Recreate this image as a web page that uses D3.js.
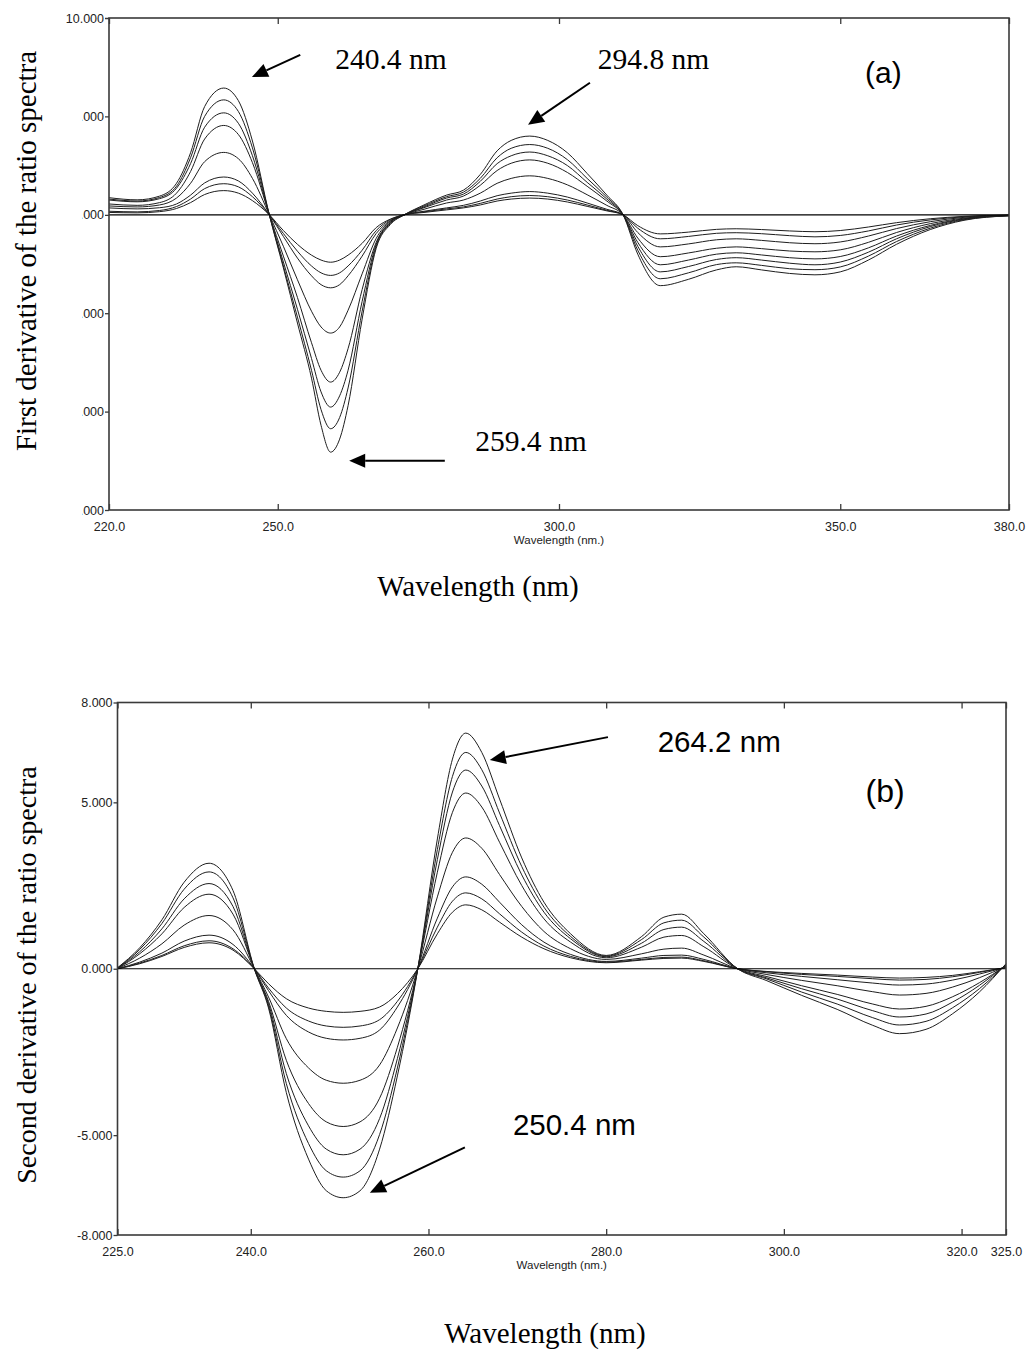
<!DOCTYPE html>
<html>
<head>
<meta charset="utf-8">
<script src="https://cdn.jsdelivr.net/npm/d3@7"></script>
<style>
  body { margin: 0; background: #fff; }
  svg { display: block; }
</style>
</head>
<body>
<svg id="chart"></svg>
<script>
//Panel (a): first derivative of the ratio spectra
const wavelengthsA = [220, 225, 229, 232, 234.5, 237, 240.4, 243, 245.5, 248.5,
  251, 253.5, 256, 257.7, 259.4, 261, 262.5, 265, 267.5, 270, 272.5,
  276, 280, 283, 286, 289, 291.5, 294.8, 298, 301.5, 305, 308.5, 311.4,
  314, 318, 323, 328, 331.5, 336, 341, 345.5, 350, 355, 360, 366, 372, 380]

const firstC1 = [0.12, 0.1, 0.16, 0.32, 0.62, 1.03, 1.23, 1.1, 0.72, 0,
  -0.8, -1.5, -2.05, -2.3, -2.41, -2.3, -2.05, -1.45, -0.65, -0.22, 0,
  0.12, 0.25, 0.35, 0.5, 0.7, 0.8, 0.85, 0.8, 0.65, 0.43, 0.2, 0,
  -0.55, -0.97, -0.88, -0.74, -0.71, -0.75, -0.82, -0.86, -0.8, -0.62, -0.4, -0.2, -0.08, -0.02]
const firstC2 = [0.18, 0.15, 0.22, 0.42, 0.8, 1.33, 1.58, 1.42, 0.92, 0,
  -0.95, -1.85, -2.6, -2.95, -3.08, -2.95, -2.6, -1.8, -0.8, -0.25, 0,
  0.15, 0.3, 0.4, 0.58, 0.8, 0.92, 0.98, 0.92, 0.75, 0.5, 0.23, 0,
  -0.68, -1.22, -1.1, -0.94, -0.91, -0.96, -1.06, -1.12, -1.05, -0.82, -0.52, -0.26, -0.1, -0.02]
const firstC3 = [0.35, 0.3, 0.36, 0.55, 1.0, 1.62, 1.92, 1.72, 1.1, 0,
  -1.1, -2.2, -3.1, -3.55, -3.71, -3.55, -3.1, -2.1, -0.95, -0.3, 0,
  0.18, 0.35, 0.48, 0.7, 0.97, 1.1, 1.18, 1.1, 0.9, 0.6, 0.28, 0,
  -0.9, -1.63, -1.48, -1.27, -1.22, -1.3, -1.42, -1.47, -1.38, -1.08, -0.7, -0.35, -0.13, -0.03]
const firstC4 = [0.45, 0.4, 0.5, 0.85, 1.6, 2.7, 3.17, 2.85, 1.85, 0,
  -1.6, -3.3, -4.9, -5.7, -6.01, -5.7, -4.85, -3.0, -1.2, -0.33, 0,
  0.28, 0.6, 0.75, 1.1, 1.6, 1.85, 1.98, 1.85, 1.52, 1.02, 0.48, 0,
  -1.18, -2.13, -1.94, -1.7, -1.63, -1.72, -1.84, -1.88, -1.78, -1.4, -0.9, -0.45, -0.17, -0.03]
const firstC5 = [0.55, 0.48, 0.62, 1.1, 2.2, 3.85, 4.54, 4.08, 2.65, 0,
  -2.1, -4.2, -6.5, -7.9, -8.5, -8.0, -6.8, -3.8, -1.4, -0.37, 0,
  0.36, 0.75, 0.95, 1.5, 2.25, 2.62, 2.79, 2.62, 2.15, 1.45, 0.7, 0,
  -1.4, -2.54, -2.3, -2.0, -1.93, -2.04, -2.18, -2.24, -2.12, -1.68, -1.08, -0.54, -0.2, -0.04]
const firstC6 = [0.75, 0.66, 0.82, 1.35, 2.6, 4.45, 5.18, 4.65, 3.0, 0,
  -2.4, -4.8, -7.3, -9.0, -9.77, -9.2, -7.9, -4.4, -1.5, -0.4, 0,
  0.4, 0.85, 1.05, 1.7, 2.6, 3.0, 3.19, 3.0, 2.5, 1.65, 0.8, 0,
  -1.6, -2.9, -2.63, -2.27, -2.18, -2.3, -2.46, -2.54, -2.4, -1.9, -1.22, -0.6, -0.22, -0.04]
const firstC7 = [0.8, 0.7, 0.88, 1.45, 2.9, 5.0, 5.84, 5.25, 3.4, 0,
  -2.6, -5.2, -7.9, -9.9, -10.87, -10.3, -8.8, -4.9, -1.6, -0.45, 0,
  0.45, 0.92, 1.15, 1.85, 2.9, 3.38, 3.57, 3.38, 2.8, 1.85, 0.9, 0,
  -1.8, -3.25, -2.95, -2.53, -2.44, -2.57, -2.74, -2.79, -2.65, -2.1, -1.36, -0.68, -0.25, -0.05]
const firstC8 = [0.87, 0.76, 0.95, 1.6, 3.15, 5.5, 6.44, 5.8, 3.75, 0,
  -2.7, -5.5, -8.3, -10.7, -12.06, -11.4, -9.7, -5.3, -1.7, -0.5, 0,
  0.5, 1.0, 1.25, 2.05, 3.25, 3.78, 4.0, 3.78, 3.15, 2.1, 1.0, 0,
  -2.0, -3.6, -3.28, -2.8, -2.64, -2.8, -2.98, -3.05, -2.9, -2.3, -1.5, -0.75, -0.28, -0.05]

const firstTicksX = [220, 250, 300, 350, 380]
const firstTicksY = [10, 5, 0, -5, -10, -15]

//Panel (b): second derivative of the ratio spectra
const wavelengthsB = [225, 227.5, 230, 232.5, 235.3, 238, 240.4,
  242, 244, 246.5, 248.5, 250.4, 252.3, 254.5, 256.5, 258.8,
  261, 262.7, 264.2, 266, 268, 270.5, 273, 276, 280,
  284, 286.5, 288.5, 291, 294.8,
  298, 302, 306, 310, 313, 316, 319, 322, 325]

const secondC1 = [0, 0.15, 0.37, 0.64, 0.78, 0.56, 0,
  -0.45, -0.9, -1.18, -1.28, -1.31, -1.28, -1.15, -0.75, 0,
  1.05, 1.7, 1.92, 1.77, 1.4, 0.95, 0.6, 0.33, 0.18,
  0.26, 0.31, 0.32, 0.22, 0,
  -0.08, -0.14, -0.19, -0.25, -0.28, -0.26, -0.2, -0.09, 0.03]
const secondC2 = [0, 0.17, 0.4, 0.69, 0.84, 0.6, 0,
  -0.58, -1.18, -1.57, -1.72, -1.76, -1.72, -1.53, -0.98, 0,
  1.25, 2.03, 2.28, 2.1, 1.65, 1.1, 0.68, 0.37, 0.2,
  0.28, 0.34, 0.35, 0.24, 0,
  -0.09, -0.17, -0.23, -0.3, -0.34, -0.32, -0.24, -0.11, 0.04]
const secondC3 = [0, 0.2, 0.47, 0.83, 1.01, 0.73, 0,
  -0.66, -1.4, -1.9, -2.09, -2.14, -2.09, -1.84, -1.15, 0,
  1.52, 2.46, 2.76, 2.54, 2.0, 1.32, 0.8, 0.43, 0.22,
  0.32, 0.4, 0.41, 0.28, 0,
  -0.12, -0.23, -0.33, -0.43, -0.49, -0.46, -0.34, -0.16, 0.05]
const secondC4 = [0.01, 0.32, 0.75, 1.31, 1.6, 1.17, 0,
  -0.85, -2.1, -2.98, -3.35, -3.44, -3.35, -2.89, -1.78, 0,
  2.16, 3.5, 3.93, 3.62, 2.83, 1.87, 1.12, 0.6, 0.28,
  0.45, 0.59, 0.62, 0.41, 0,
  -0.17, -0.35, -0.51, -0.69, -0.79, -0.74, -0.55, -0.27, 0.07]
const secondC5 = [0.01, 0.45, 1.05, 1.84, 2.24, 1.64, 0,
  -0.98, -2.75, -4.05, -4.6, -4.74, -4.6, -3.89, -2.36, 0,
  2.9, 4.7, 5.28, 4.86, 3.8, 2.5, 1.5, 0.8, 0.33,
  0.65, 0.95, 1.0, 0.66, 0,
  -0.23, -0.51, -0.77, -1.06, -1.21, -1.13, -0.84, -0.42, 0.1]
const secondC6 = [0.02, 0.51, 1.2, 2.1, 2.56, 1.87, 0,
  -1.05, -3.15, -4.72, -5.42, -5.59, -5.42, -4.5, -2.7, 0,
  3.28, 5.31, 5.97, 5.49, 4.3, 2.82, 1.7, 0.9, 0.36,
  0.77, 1.18, 1.25, 0.82, 0,
  -0.27, -0.6, -0.91, -1.26, -1.45, -1.36, -1.0, -0.5, 0.12]
const secondC7 = [0.02, 0.58, 1.36, 2.39, 2.91, 2.13, 0,
  -1.12, -3.45, -5.25, -6.07, -6.26, -6.07, -4.98, -2.98, 0,
  3.58, 5.78, 6.5, 5.98, 4.68, 3.07, 1.85, 0.97, 0.38,
  0.88, 1.38, 1.46, 0.95, 0,
  -0.3, -0.7, -1.06, -1.47, -1.69, -1.58, -1.17, -0.6, 0.13]
const secondC8 = [0.03, 0.63, 1.47, 2.6, 3.17, 2.35, 0,
  -1.18, -3.72, -5.72, -6.67, -6.88, -6.67, -5.42, -3.22, 0,
  3.9, 6.3, 7.08, 6.5, 5.1, 3.33, 2.0, 1.05, 0.4,
  0.97, 1.55, 1.64, 1.05, 0,
  -0.35, -0.8, -1.22, -1.7, -1.95, -1.82, -1.35, -0.7, 0.15]

const secondTicksX = [225, 240, 260, 280, 300, 320, 325]
const secondTicksY = [8, 5, 0, -5, -8]

//set up svg container
const width = 1029
const height = 1353
const svg = d3.select('#chart').attr('width', width).attr('height', height)

const serif = '"Liberation Serif", "Times New Roman", serif'
const sans = '"Liberation Sans", Arial, sans-serif'

//arrow with a filled triangle head, drawn from tail to tip
const arrow = (g, x1, y1, x2, y2) => {
  const a = Math.atan2(y2 - y1, x2 - x1)
  const len = 16, half = 7
  const bx = x2 - len * Math.cos(a), by = y2 - len * Math.sin(a)
  g.append('line')
   .attr('x1', x1).attr('y1', y1).attr('x2', bx).attr('y2', by)
   .attr('stroke', '#000').attr('stroke-width', 2)
  g.append('polygon')
   .attr('points', [
     [x2, y2],
     [bx + half * Math.sin(a), by - half * Math.cos(a)],
     [bx - half * Math.sin(a), by + half * Math.cos(a)]
   ].map(p => p.join(',')).join(' '))
   .attr('fill', '#000')
}

//The function that draws one spectra panel
const drawPanel = (opt) => {
  const g = svg.append('g')

  const xScale = d3.scaleLinear().domain(opt.xDomain).range([opt.left, opt.right])
  const yScale = d3.scaleLinear().domain(opt.yDomain).range([opt.bottom, opt.top])

  //spectra
  const line = d3.line()
                 .x((d, i) => xScale(opt.wl[i]))
                 .y(d => yScale(d))
                 .curve(d3.curveMonotoneX)

  g.append('g').selectAll('path')
   .data(opt.series)
   .join('path')
   .attr('d', line)
   .attr('fill', 'none')
   .attr('stroke', '#1e1e1e')
   .attr('stroke-width', 1)

  //zero line
  g.append('line')
   .attr('x1', xScale(opt.xDomain[0])).attr('x2', xScale(opt.xDomain[1]))
   .attr('y1', yScale(0)).attr('y2', yScale(0))
   .attr('stroke', '#000').attr('stroke-width', 1.2)

  //frame
  g.append('rect')
   .attr('x', opt.left).attr('y', opt.top)
   .attr('width', opt.right - opt.left).attr('height', opt.bottom - opt.top)
   .attr('fill', 'none').attr('stroke', '#3a3a3a').attr('stroke-width', 1.6)

  //axes
  const xAxis = d3.axisBottom(xScale)
                  .tickValues(opt.xTicks)
                  .tickFormat(d => d.toFixed(1))
                  .tickSizeInner(-6).tickSizeOuter(0).tickPadding(12)
  const xTop = d3.axisTop(xScale)
                 .tickValues(opt.xTicks)
                 .tickFormat('')
                 .tickSizeInner(-6).tickSizeOuter(0)
  const yAxis = d3.axisLeft(yScale)
                  .tickValues(opt.yTicks)
                  .tickFormat(d => d.toFixed(3))
                  .tickSizeInner(4).tickSizeOuter(0).tickPadding(1)

  const styleAxis = sel => {
    sel.select('.domain').remove()
    sel.selectAll('line').attr('stroke', '#3a3a3a').attr('stroke-width', 1.3)
    sel.selectAll('text').attr('fill', '#222').style('font-family', sans).style('font-size', '12.5px')
  }

  g.append('g').attr('transform', `translate(0, ${opt.bottom})`).call(xAxis).call(styleAxis)
  g.append('g').attr('transform', `translate(0, ${opt.top})`).call(xTop).call(styleAxis)
  const ya = g.append('g').attr('transform', `translate(${opt.left}, 0)`).call(yAxis).call(styleAxis)
  if (opt.clipId) ya.attr('clip-path', `url(#${opt.clipId})`)

  //small instrument axis caption
  g.append('text')
   .attr('x', (opt.left + opt.right) / 2).attr('y', opt.bottom + 34)
   .attr('text-anchor', 'middle')
   .style('font-family', sans).style('font-size', '11.5px').attr('fill', '#222')
   .text('Wavelength (nm.)')

  //titles
  g.append('text')
   .attr('transform', `translate(${opt.yTitleX}, ${opt.yTitleY}) rotate(-90)`)
   .attr('text-anchor', 'middle')
   .style('font-family', serif).style('font-size', opt.yTitleSize)
   .text(opt.yTitle)

  g.append('text')
   .attr('x', opt.xTitleX).attr('y', opt.xTitleY)
   .attr('text-anchor', 'middle')
   .style('font-family', serif).style('font-size', '29px')
   .text('Wavelength (nm)')

  //annotations
  opt.notes.forEach(n => {
    g.append('text')
     .attr('x', xScale(n.wl)).attr('y', yScale(n.v))
     .style('font-family', n.font).style('font-size', n.size)
     .text(n.text)
  })
  opt.arrows.forEach(a => {
    arrow(g, xScale(a.from[0]), yScale(a.from[1]), xScale(a.to[0]), yScale(a.to[1]))
  })
}

//clip so that the left side of panel (a) tick labels is hidden as in the figure
//(coordinates are in the axis group's own space, whose origin is the left frame edge)
const defs = svg.append('defs')
const clip = defs.append('clipPath').attr('id', 'clipA')
clip.append('rect').attr('x', -120).attr('y', 0).attr('width', 130).attr('height', 30)
clip.append('rect').attr('x', -27).attr('y', 30).attr('width', 37).attr('height', 500)

drawPanel({
  wl: wavelengthsA,
  series: [firstC1, firstC2, firstC3, firstC4, firstC5, firstC6, firstC7, firstC8],
  xDomain: [220, 380], yDomain: [-15, 10],
  xTicks: firstTicksX, yTicks: firstTicksY,
  left: 109, right: 1009, top: 18, bottom: 510,
  clipId: 'clipA',
  yTitle: 'First derivative of the ratio spectra', yTitleX: 36, yTitleY: 251, yTitleSize: '29px',
  xTitleX: 478, xTitleY: 596,
  notes: [
    { text: '240.4 nm', wl: 260.2, v: 7.4, font: serif, size: '29.5px' },
    { text: '294.8 nm', wl: 306.9, v: 7.4, font: serif, size: '29.5px' },
    { text: '259.4 nm', wl: 285.1, v: -12.0, font: serif, size: '29.5px' },
    { text: '(a)', wl: 354.4, v: 6.7, font: sans, size: '30px' }
  ],
  arrows: [
    { from: [254.0, 8.13], to: [245.4, 7.0] },
    { from: [305.5, 6.71], to: [294.5, 4.57] },
    { from: [279.7, -12.5], to: [262.7, -12.5] }
  ]
})

drawPanel({
  wl: wavelengthsB,
  series: [secondC1, secondC2, secondC3, secondC4, secondC5, secondC6, secondC7, secondC8],
  xDomain: [225, 325], yDomain: [-8, 8],
  xTicks: secondTicksX, yTicks: secondTicksY,
  left: 117.5, right: 1006, top: 702.5, bottom: 1235,
  clipId: null,
  yTitle: 'Second derivative of the ratio spectra', yTitleX: 36, yTitleY: 975, yTitleSize: '28px',
  xTitleX: 545, xTitleY: 1343,
  notes: [
    { text: '264.2 nm', wl: 285.8, v: 6.5, font: sans, size: '29.5px' },
    { text: '(b)', wl: 309.2, v: 5.0, font: sans, size: '32px' },
    { text: '250.4 nm', wl: 269.5, v: -5.0, font: sans, size: '29.5px' }
  ],
  arrows: [
    { from: [280.2, 6.96], to: [266.9, 6.27] },
    { from: [264.1, -5.37], to: [253.4, -6.73] }
  ]
})
</script>
</body>
</html>
